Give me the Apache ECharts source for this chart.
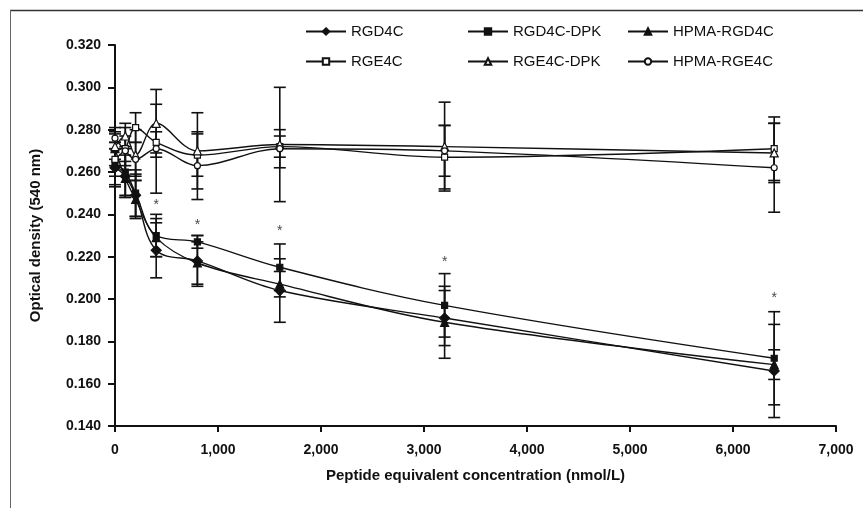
<!DOCTYPE html>
<html><head><meta charset="utf-8">
<script src="https://cdn.jsdelivr.net/npm/echarts@6/dist/echarts.min.js"></script>
<style>html,body{margin:0;padding:0;background:#fff}#c{width:863px;height:508px}</style>
</head><body><div id="c"></div>
<script>
// ---- data ----
const concentrations = [0, 100, 200, 400, 800, 1600, 3200, 6400];
const seriesNames = ['RGD4C', 'RGD4C-DPK', 'HPMA-RGD4C', 'RGE4C', 'RGE4C-DPK', 'HPMA-RGE4C'];
const rgd4c      = [0.262, 0.258, 0.249, 0.223, 0.218, 0.204, 0.191, 0.166];
const rgd4cDpk   = [0.264, 0.260, 0.250, 0.230, 0.227, 0.215, 0.197, 0.172];
const hpmaRgd4c  = [0.271, 0.257, 0.247, 0.229, 0.217, 0.207, 0.189, 0.169];
const rge4c      = [0.266, 0.271, 0.281, 0.274, 0.268, 0.272, 0.267, 0.271];
const rge4cDpk   = [0.272, 0.277, 0.268, 0.283, 0.270, 0.273, 0.272, 0.269];
const hpmaRge4c  = [0.276, 0.270, 0.266, 0.271, 0.263, 0.271, 0.270, 0.262];
// standard deviations (error bar half-lengths)
const rgd4cSd     = [0.009, 0.010, 0.010, 0.013, 0.012, 0.015, 0.013, 0.022];
const rgd4cDpkSd  = [0.010, 0.012, 0.011, 0.010, 0.003, 0.011, 0.015, 0.022];
const hpmaRgd4cSd = [0.008, 0.008, 0.009, 0.009, 0.010, 0.006, 0.017, 0.007];
const rge4cSd     = [0.008, 0.010, 0.007, 0.005, 0.010, 0.005, 0.015, 0.015];
const rge4cDpkSd  = [0.006, 0.006, 0.012, 0.016, 0.018, 0.027, 0.021, 0.014];
const hpmaRge4cSd = [0.005, 0.007, 0.008, 0.021, 0.016, 0.009, 0.012, 0.021];
// significance markers
const starX = [400, 800, 1600, 3200, 6400];
const starY = [0.2445, 0.2350, 0.2320, 0.2175, 0.2005];
const yTicks = [0.140, 0.160, 0.180, 0.200, 0.220, 0.240, 0.260, 0.280, 0.300, 0.320];

// ---- build ----
const values = [rgd4c, rgd4cDpk, hpmaRgd4c, rge4c, rge4cDpk, hpmaRge4c];
const sds = [rgd4cSd, rgd4cDpkSd, hpmaRgd4cSd, rge4cSd, rge4cDpkSd, hpmaRge4cSd];
const styles = [
  {symbol: 'diamond', size: 10, fill: '#111'},
  {symbol: 'rect', size: 6, fill: '#111'},
  {symbol: 'triangle', size: 8, fill: '#111'},
  {symbol: 'rect', size: 6, fill: '#fff'},
  {symbol: 'triangle', size: 8, fill: '#fff'},
  {symbol: 'circle', size: 6, fill: '#fff'}
];
const FONT = "'Liberation Sans', Arial, sans-serif";
const series = [];
values.forEach((vals, i) => {
  series.push({
    type: 'custom', name: seriesNames[i] + ' err', silent: true, z: 1,
    data: concentrations.map((x, j) => [x, vals[j] - sds[i][j], vals[j] + sds[i][j]]),
    renderItem: (params, api) => {
      const x = api.value(0);
      const lo = api.coord([x, api.value(1)]);
      const hi = api.coord([x, api.value(2)]);
      const w = 6;
      const st = {stroke: '#111', lineWidth: 1.6};
      return {type: 'group', children: [
        {type: 'line', shape: {x1: lo[0], y1: lo[1], x2: hi[0], y2: hi[1]}, style: st},
        {type: 'line', shape: {x1: lo[0] - w, y1: lo[1], x2: lo[0] + w, y2: lo[1]}, style: st},
        {type: 'line', shape: {x1: hi[0] - w, y1: hi[1], x2: hi[0] + w, y2: hi[1]}, style: st}
      ]};
    }
  });
});
values.forEach((vals, i) => {
  const s = styles[i];
  series.push({
    type: 'line', name: seriesNames[i], z: 3,
    data: concentrations.map((x, j) => [x, vals[j]]),
    smooth: 0.35,
    symbol: s.symbol, symbolSize: s.size, showAllSymbol: true,
    lineStyle: {color: '#111', width: 1.4},
    itemStyle: {color: s.fill, borderColor: '#111', borderWidth: 1.2},
    emphasis: {disabled: true}
  });
});
series.push({
  type: 'scatter', name: 'stars', symbolSize: 0, silent: true,
  data: starX.map((x, j) => [x, starY[j]]),
  label: {show: true, position: 'inside', formatter: '*', fontFamily: FONT, fontSize: 14, color: '#111'}
});

const legendPos = [[300, 19], [462, 19], [622, 19], [300, 49], [462, 49], [622, 49]];
const legends = seriesNames.map((n, i) => ({
  data: [n], left: legendPos[i][0], top: legendPos[i][1],
  itemWidth: 40, itemHeight: 8, itemGap: 4,
  textStyle: {fontFamily: FONT, fontSize: 15, color: '#111'},
  selectedMode: false
}));

const chart = echarts.init(document.getElementById('c'), null, {renderer: 'canvas'});
chart.setOption({
  animation: false,
  backgroundColor: '#fff',
  legend: legends,
  grid: {left: 115, right: 27, top: 45, bottom: 82},
  xAxis: {
    type: 'value', min: 0, max: 7000, interval: 1000,
    name: 'Peptide equivalent concentration (nmol/L)', nameLocation: 'middle', nameGap: 42,
    nameTextStyle: {fontFamily: FONT, fontSize: 15, fontWeight: 'bold', color: '#111'},
    axisLine: {lineStyle: {color: '#111', width: 2}},
    axisTick: {length: 6, lineStyle: {color: '#111', width: 2}},
    axisLabel: {margin: 17, fontFamily: FONT, fontSize: 14, fontWeight: 'bold', color: '#111',
      formatter: v => v.toLocaleString('en-US')},
    splitLine: {show: false}
  },
  yAxis: {
    type: 'value', min: yTicks[0], max: yTicks[yTicks.length - 1], interval: 0.02,
    name: 'Optical density (540 nm)', nameLocation: 'middle', nameGap: 72,
    nameTextStyle: {fontFamily: FONT, fontSize: 15, fontWeight: 'bold', color: '#111'},
    axisLine: {show: true, lineStyle: {color: '#111', width: 2}},
    axisTick: {show: true, length: 7, lineStyle: {color: '#111', width: 2}},
    axisLabel: {margin: 14, fontFamily: FONT, fontSize: 14, fontWeight: 'bold', color: '#111',
      formatter: v => v.toFixed(3)},
    splitLine: {show: false}
  },
  graphic: [
    {type: 'line', shape: {x1: 10, y1: 10.5, x2: 863, y2: 10.5}, style: {stroke: '#333', lineWidth: 1.5}},
    {type: 'line', shape: {x1: 10.5, y1: 10, x2: 10.5, y2: 508}, style: {stroke: '#666', lineWidth: 1}}
  ],
  series: series
});
</script>
</body></html>
